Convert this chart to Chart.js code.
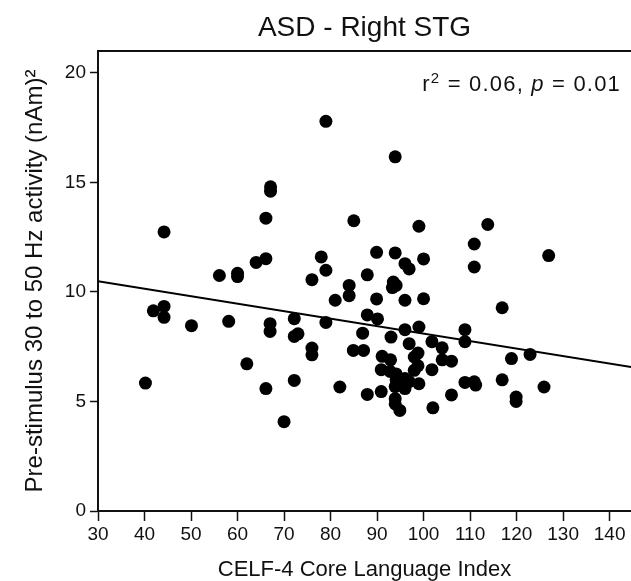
<!DOCTYPE html>
<html>
<head>
<meta charset="utf-8">
<title>ASD - Right STG</title>
<script src="https://cdn.jsdelivr.net/npm/chart.js@4.4.1/dist/chart.umd.min.js"></script>
<style>
  html, body { margin: 0; padding: 0; background: #fff; }
  canvas { display: block; }
</style>
</head>
<body>
<canvas id="stgChart" width="631" height="581"></canvas>
<script>
// CELF-4 core language index of each participant (x)
const celfIndex = [
    67.1, 67.1, 66.1, 44.2, 66.1, 64.0, 56.1, 60.0, 60.0, 79.0,
    93.9, 85.0, 99.0, 113.8, 110.9, 110.9, 78.0, 79.0, 76.0, 84.0,
    87.9, 89.9, 93.9, 96.0, 96.9, 100.0, 93.5, 94.1, 93.3, 126.9,
    41.9, 44.2, 44.2, 50.1, 58.1, 67.0, 67.0, 72.2, 72.2, 73.0,
    62.0, 40.2, 66.1, 72.2, 70.0, 84.0, 81.0, 89.9, 96.0, 100.0,
    79.0, 87.9, 90.1, 86.9, 93.0, 96.0, 99.0, 96.9, 101.8, 104.0,
    104.0, 106.0, 108.9, 108.9, 76.0, 76.0, 84.9, 87.1, 91.1, 92.9,
    98.8, 98.0, 98.8, 98.0, 90.9, 92.8, 94.1, 94.1, 96.0, 96.9,
    99.0, 101.8, 93.9, 96.0, 82.0, 87.9, 90.9, 93.9, 93.9, 94.9,
    106.0, 102.0, 108.9, 110.9, 111.2, 116.9, 118.9, 122.9, 116.9, 119.9,
    119.9, 125.9
];

// pre-stimulus 30-50 Hz activity, (nAm)^2 (y)
const activity = [
    14.80, 14.60, 13.37, 12.74, 11.52, 11.35, 10.75, 10.85, 10.70, 17.79,
    16.17, 13.25, 13.00, 13.08, 12.19, 11.14, 11.60, 10.99, 10.56, 10.30,
    10.78, 11.81, 11.78, 11.29, 11.05, 11.51, 10.45, 10.30, 10.20, 11.66,
    9.14, 9.34, 8.84, 8.46, 8.66, 8.55, 8.20, 8.78, 7.97, 8.09,
    6.72, 5.84, 5.59, 5.96, 4.08, 9.83, 9.62, 9.68, 9.62, 9.69,
    8.61, 8.95, 8.77, 8.12, 7.94, 8.28, 8.40, 7.64, 7.73, 7.45,
    6.90, 6.84, 8.28, 7.73, 7.44, 7.13, 7.33, 7.33, 7.06, 6.90,
    7.21, 7.03, 6.63, 6.42, 6.45, 6.37, 6.26, 5.99, 6.05, 5.91,
    5.81, 6.45, 5.68, 5.59, 5.66, 5.32, 5.45, 5.13, 4.89, 4.59,
    5.30, 4.71, 5.87, 5.90, 5.75, 9.28, 6.96, 7.15, 5.99, 5.20,
    5.00, 5.66
];

// linear fit end points
const fitX = [30, 145];
const fitY = [10.49, 6.56];

const xTicks = [30, 40, 50, 60, 70, 80, 90, 100, 110, 120, 130, 140];
const yTicks = [0, 5, 10, 15, 20];

const FONT = '"Liberation Sans", Arial, sans-serif';
const INK = '#111';

// top edge of the plot frame
const frameTop = {
    id: 'frameTop',
    afterDraw(chart) {
        const {ctx, chartArea} = chart;
        ctx.save();
        ctx.strokeStyle = INK;
        ctx.lineWidth = 2;
        ctx.beginPath();
        ctx.moveTo(chartArea.left, chartArea.top);
        ctx.lineTo(chart.width, chartArea.top);
        ctx.stroke();
        ctx.restore();
    }
};

// "r2 = 0.06, p = 0.01" in the top right corner
const statsNote = {
    id: 'statsNote',
    afterDraw(chart) {
        const ctx = chart.ctx;
        const size = 22;
        const parts = [
            {text: 'r', font: `${size}px ${FONT}`, dy: 0},
            {text: '2', font: `${Math.round(size * 0.68)}px ${FONT}`, dy: -8},
            {text: ' = 0.06, ', font: `${size}px ${FONT}`, dy: 0},
            {text: 'p', font: `italic ${size}px ${FONT}`, dy: 0},
            {text: ' = 0.01', font: `${size}px ${FONT}`, dy: 0}
        ];
        ctx.save();
        ctx.fillStyle = INK;
        ctx.textBaseline = 'alphabetic';
        ctx.textAlign = 'left';
        ctx.letterSpacing = '1.2px';
        let total = 0;
        parts.forEach(p => {
            ctx.font = p.font;
            p.w = ctx.measureText(p.text).width;
            total += p.w;
        });
        let x = 621 - total;
        const y = 91;
        parts.forEach(p => {
            ctx.font = p.font;
            ctx.fillText(p.text, x, y + p.dy);
            x += p.w;
        });
        ctx.restore();
    }
};

const points = celfIndex.map((v, i) => ({x: v, y: activity[i]}));
const fitPoints = fitX.map((v, i) => ({x: v, y: fitY[i]}));

new Chart(document.getElementById('stgChart'), {
    type: 'scatter',
    data: {
        datasets: [{
            data: points,
            backgroundColor: '#000',
            borderWidth: 0,
            pointRadius: 6.5,
            pointHoverRadius: 6.5
        }, {
            data: fitPoints,
            showLine: true,
            borderColor: '#000',
            borderWidth: 2,
            pointRadius: 0
        }]
    },
    options: {
        responsive: false,
        animation: false,
        layout: { padding: 0, autoPadding: false },
        plugins: {
            legend: { display: false },
            tooltip: { enabled: false },
            title: {
                display: true,
                fullSize: false,
                text: 'ASD - Right STG',
                color: INK,
                font: { family: FONT, size: 28, weight: 'normal', lineHeight: 1.2 },
                padding: { top: 11, bottom: 6.4 }
            }
        },
        scales: {
            x: {
                type: 'linear',
                min: 30,
                max: 144.6,
                afterBuildTicks: s => { s.ticks = xTicks.map(v => ({value: v})); },
                afterFit: s => { s.height = 70; s.paddingLeft = 0; s.paddingRight = 0; },
                ticks: { color: INK, font: { family: FONT, size: 19 }, padding: 2, maxRotation: 0 },
                grid: { drawOnChartArea: false, drawTicks: true, tickLength: 10, tickColor: INK, tickWidth: 1.5 },
                border: { display: true, color: INK, width: 2 },
                title: {
                    display: true,
                    text: 'CELF-4 Core Language Index',
                    color: INK,
                    font: { family: FONT, size: 22, lineHeight: '22px' },
                    padding: 0
                }
            },
            y: {
                type: 'linear',
                min: 0,
                max: 21,
                afterBuildTicks: s => { s.ticks = yTicks.map(v => ({value: v})); },
                afterFit: s => { s.width = 98; },
                ticks: { color: INK, font: { family: FONT, size: 19 }, padding: 4 },
                grid: { drawOnChartArea: false, drawTicks: true, tickLength: 8, tickColor: INK, tickWidth: 1.5 },
                border: { display: true, color: INK, width: 2 },
                title: {
                    display: true,
                    text: 'Pre-stimulus 30 to 50 Hz activity (nAm)²',
                    color: INK,
                    font: { family: FONT, size: 24, lineHeight: 1.2 },
                    padding: { top: 21, bottom: 0 }
                }
            }
        }
    },
    plugins: [frameTop, statsNote]
});
</script>
</body>
</html>
